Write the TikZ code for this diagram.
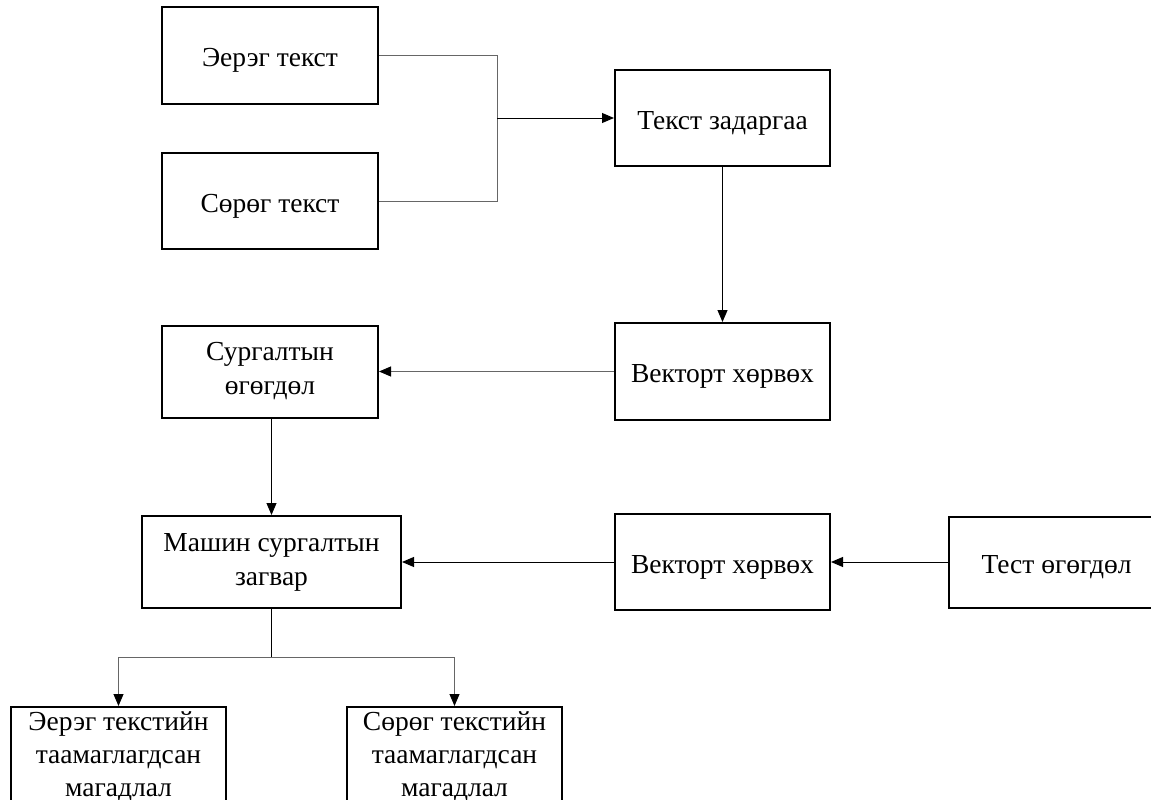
\documentclass[tikz,border=0pt]{standalone}
\usepackage{fontspec}
\setmainfont{Liberation Serif}
\usetikzlibrary{positioning}
\usetikzlibrary{arrows.meta}
\tikzset{
    mybox/.style = {rectangle, line width=2pt, draw=black, align=center, inner sep=0pt, fill=white, font=\fontsize{27.5}{34}\selectfont, text=black},
    myline/.style = {mybox, text height=22pt, text depth=0pt}, % one line of text
    mywide/.style = {myline, minimum width=215pt, minimum height=96pt},
    edgen/.style = {-, line width=1pt, black},
    edgeg/.style = {-, line width=1pt, black!60}, % merge lines
    edgea/.style = {-{Triangle[length=12pt,width=10pt]}, line width=1pt, black},
    edgega/.style = {-{Triangle[length=12pt,width=10pt,color=black]}, line width=1pt, black!60},
}

\begin{document}
\begin{tikzpicture}[x=1pt,y=-1pt]
\path[use as bounding box] (0, 0) rectangle (1151, 800);
%
\node[myline, minimum width=216pt, minimum height=97pt] at (270, 55.5) (pos) {Эерэг текст};
\node[myline, minimum width=216pt, minimum height=96pt] at (270, 201) (neg) {Сөрөг текст};
\node[mywide] at (722.5, 118) (tok) {Текст задаргаа};
\node[mywide, minimum height=97pt] at (722.5, 371.5) (vec1) {Векторт хөрвөх};
\node[mybox, minimum width=216pt, minimum height=92pt] at (270, 371.5) (train) {Сургалтын\\өгөгдөл};
\node[mybox, minimum width=259pt, minimum height=92pt] at (271.5, 562) (model) {Машин сургалтын\\загвар};
\node[mywide] at (722.5, 562) (vec2) {Векторт хөрвөх};
\node[mywide, minimum height=91pt] at (1056.5, 562) (test) {Тест өгөгдөл};
\node[mybox, minimum width=215pt, minimum height=99pt, font=\fontsize{27.5}{33}\selectfont] at (118.5, 756.5) (pp) {Эерэг текстийн\\таамаглагдсан\\магадлал};
\node[mybox, minimum width=215pt, minimum height=99pt, font=\fontsize{27.5}{33}\selectfont] at (454.5, 756.5) (np) {Сөрөг текстийн\\таамаглагдсан\\магадлал};
%
\coordinate (j) at (497, 118);
\draw[edgeg] (pos.east) -| (j);
\draw[edgeg] (neg.east) -| (j);
\draw[edgea] (j) -- (tok.west);
\draw[edgea] (tok) -- (vec1);
\draw[edgega] (vec1) -- (train);
\draw[edgea] (train.south -| model.north) -- (model.north);
\draw[edgea] (test) -- (vec2);
\draw[edgea] (vec2) -- (model);
%
\coordinate (s) at (271.5, 657);
\draw[edgen] (model.south) -- (s);
\draw[edgega] (s) -| (pp.north);
\draw[edgega] (s) -| (np.north);
\end{tikzpicture}
\end{document}
